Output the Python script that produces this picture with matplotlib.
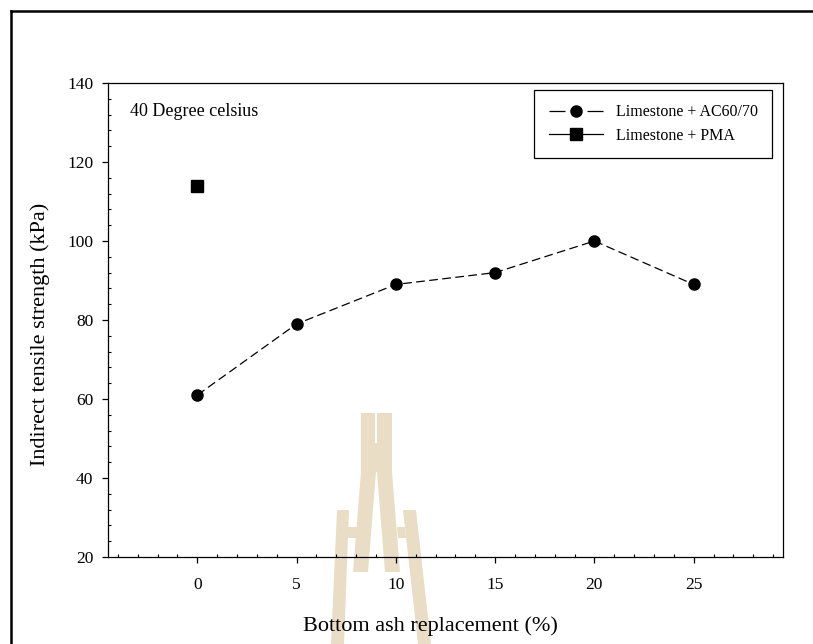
import matplotlib
matplotlib.use('Agg')
import matplotlib.pyplot as plt
from matplotlib.patches import Polygon
from matplotlib.lines import Line2D
from matplotlib.ticker import MultipleLocator

# Data
replacement = [0, 5, 10, 15, 20, 25]          # bottom ash replacement (%)
its_ac6070 = [61, 79, 89, 92, 100, 89]         # Limestone + AC60/70 (kPa)
pma_replacement = [0]
its_pma = [114]                                # Limestone + PMA (kPa)

x_ticks = [0, 5, 10, 15, 20, 25]
y_ticks = [20, 40, 60, 80, 100, 120, 140]
labels = ['Limestone + AC60/70', 'Limestone + PMA']

W, H = 813, 644
plt.rcParams['font.family'] = ['Liberation Serif', 'DejaVu Serif']

fig = plt.figure(figsize=(W / 100, H / 100), dpi=100)
ax = fig.add_axes([108 / W, 1 - 557 / H, (783 - 108) / W, (557 - 83) / H])
ax.patch.set_alpha(0)


def px(x, y):
    return (x / W, 1 - y / H)


# faint logo watermark behind the plot (figure pixel coords)
WM = '#E9DDC5'
shapes = [
    [(361, 413), (375, 413), (375, 443), (361, 443)],
    [(377, 413), (392, 413), (392, 443), (377, 443)],
    [(361, 443), (392, 443), (392, 472), (361, 472)],
    [(361, 472), (376, 472), (368, 572), (353, 572)],
    [(377, 472), (392, 472), (400, 572), (385, 572)],
    [(337, 510), (349, 510), (344, 644), (331, 644)],
    [(403, 510), (416, 510), (431, 644), (418, 644)],
    [(347, 527), (358, 527), (357, 538), (346, 538)],
    [(397, 527), (405, 527), (406, 538), (398, 538)],
]
for pts in shapes:
    fig.patches.append(Polygon([px(*p) for p in pts], closed=True, transform=fig.transFigure,
                               facecolor=WM, edgecolor='none', zorder=-5))

# frame around the whole picture (left and top edges visible)
fig.add_artist(Line2D([11 / W, 11 / W], [0, 1 - 11 / H], transform=fig.transFigure,
                      color='black', linewidth=1.8))
fig.add_artist(Line2D([11 / W, 1], [1 - 11 / H, 1 - 11 / H], transform=fig.transFigure,
                      color='black', linewidth=1.8))

ax.plot(replacement, its_ac6070, color='black', linestyle=(0, (7, 3.5)), linewidth=0.9,
        marker='o', markersize=8, zorder=3)
ax.plot(pma_replacement, its_pma, color='black', linestyle='-', linewidth=0.9,
        marker='s', markersize=8.4, zorder=3)

ax.set_xlim(-4.5, 29.5)
ax.set_ylim(20, 140)
ax.set_xticks(x_ticks)
ax.set_yticks(y_ticks)
ax.xaxis.set_minor_locator(MultipleLocator(1))
ax.yaxis.set_minor_locator(MultipleLocator(4))
ax.tick_params(which='major', direction='out', length=4.2, width=0.9, labelsize=12.5)
ax.tick_params(which='minor', direction='in', length=2.4, width=0.8)
ax.tick_params(axis='x', pad=10)
ax.tick_params(axis='y', pad=6.5)
for s in ax.spines.values():
    s.set_linewidth(0.9)

ax.set_xlabel('Bottom ash replacement (%)', fontsize=16)
ax.set_ylabel('Indirect tensile strength (kPa)', fontsize=16)
ax.xaxis.set_label_coords(0.477, -0.126)
ax.yaxis.set_label_coords(-0.086, 0.47)
ax.text(0.033, 0.958, '40 Degree celsius', transform=ax.transAxes, fontsize=13,
        va='top', ha='left')

# legend proxies: one short dash either side of the circle, as in the original
handles = [
    Line2D([], [], color='black', linewidth=0.9, linestyle=(0, (12.8, 17.6)),
           marker='o', markersize=8),
    Line2D([], [], color='black', linewidth=0.9, linestyle='-', marker='s', markersize=8.4),
]
leg = ax.legend(handles, labels, loc='upper right', bbox_to_anchor=(0.984, 0.985),
                borderaxespad=0, fancybox=False, edgecolor='black', framealpha=1,
                fontsize=11.5, handlelength=3.4, borderpad=0.9, labelspacing=0.45,
                handletextpad=0.8)
leg.get_frame().set_linewidth(0.9)

fig.savefig('out.png', dpi=100)
